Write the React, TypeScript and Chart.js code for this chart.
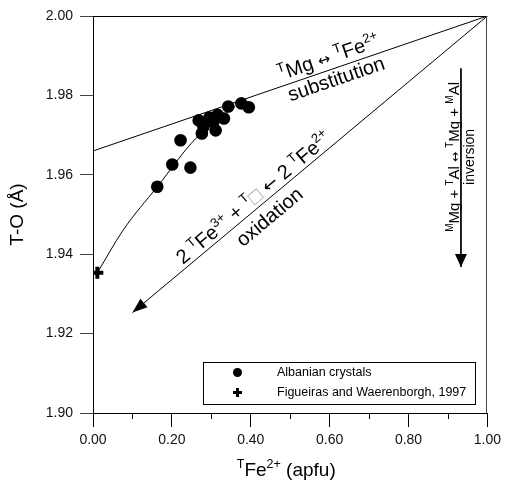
import React, { useEffect, useRef } from "react";
import { Chart, registerables } from "chart.js";

Chart.register(...registerables);

// ---- data ----
const albanianX = [0.163, 0.201, 0.247, 0.222, 0.276, 0.311, 0.268, 0.295, 0.280, 0.316, 0.332, 0.343, 0.376, 0.395, 0.305];
const albanianY = [1.957, 1.9626, 1.9618, 1.9687, 1.9704, 1.9712, 1.9737, 1.9744, 1.9721, 1.9751, 1.9742, 1.9772, 1.978, 1.977, 1.9733];
const figueirasX = [0.011];
const figueirasY = [1.9353];
const trendX = [0.011, 0.076, 0.163, 0.261, 0.36];
const trendY = [1.9353, 1.946, 1.957, 1.9692, 1.9772];
const substitutionX = [0, 1];
const substitutionY = [1.966, 2.0];
const oxidationX = [1, 0.1];
const oxidationY = [2.0, 1.9253];
const inversionX = [0.933, 0.933];
const inversionY = [1.9868, 1.9368];
const xRange = [0, 1];
const yRange = [1.9, 2.0];
const xStep = 0.2;
const xMinorTicks = [0.1, 0.3, 0.5, 0.7, 0.9];
const yStep = 0.02;
const legendLabels = ["Albanian crystals", "Figueiras and Waerenborgh, 1997"];

const FAMILY = '"Liberation Sans", Arial, Helvetica, sans-serif';
const ARROW_FAMILY = '"DejaVu Sans", sans-serif';
const font = (s: number, fam: string = FAMILY) => `${s}px ${fam}`;

type Part = { t: string; k: "n" | "s" | "a"; c?: string; z?: number };

function drawRich(
  ctx: CanvasRenderingContext2D,
  parts: Part[],
  x: number,
  y: number,
  angle: number,
  main: number,
  sup: number
) {
  ctx.save();
  ctx.translate(x, y);
  ctx.rotate(angle);
  ctx.textBaseline = "alphabetic";
  ctx.textAlign = "left";
  const fontOf = (p: Part) =>
    p.k === "s" ? font(sup) : p.k === "a" ? font(p.z || main, ARROW_FAMILY) : font(main);
  const widths: number[] = [];
  let total = 0;
  for (const p of parts) {
    ctx.font = fontOf(p);
    const w = ctx.measureText(p.t).width;
    widths.push(w);
    total += w;
  }
  let cx = -total / 2;
  parts.forEach((p, i) => {
    ctx.font = fontOf(p);
    ctx.fillStyle = p.c || "#000";
    const dy = p.k === "s" ? -main * 0.4 : p.k === "a" ? -main * 0.02 : 0;
    ctx.fillText(p.t, cx, dy);
    cx += widths[i];
  });
  ctx.restore();
}

function arrowHead(ctx: CanvasRenderingContext2D, fx: number, fy: number, tx: number, ty: number, len: number, half: number) {
  const a = Math.atan2(ty - fy, tx - fx);
  const ux = Math.cos(a), uy = Math.sin(a);
  const bx = tx - ux * len, by = ty - uy * len;
  ctx.beginPath();
  ctx.moveTo(tx, ty);
  ctx.lineTo(bx - uy * half, by + ux * half);
  ctx.lineTo(bx + uy * half, by - ux * half);
  ctx.closePath();
  ctx.fillStyle = "#000";
  ctx.fill();
}

const annotationPlugin = {
  id: "annotations",
  afterDatasetsDraw(chart: any) {
    const ctx: CanvasRenderingContext2D = chart.ctx;
    const xs = chart.scales.x;
    const ys = chart.scales.y;
    const ca = chart.chartArea;
    const px = (v: number) => xs.getPixelForValue(v);
    const py = (v: number) => ys.getPixelForValue(v);
    ctx.save();

    // frame top and right
    ctx.strokeStyle = "#000";
    ctx.lineWidth = 1;
    ctx.beginPath();
    ctx.moveTo(ca.left, Math.round(ca.top) + 0.5);
    ctx.lineTo(ca.right, Math.round(ca.top) + 0.5);
    ctx.stroke();
    ctx.strokeStyle = "#444";
    ctx.beginPath();
    ctx.moveTo(Math.round(ca.right) - 0.5, ca.top);
    ctx.lineTo(Math.round(ca.right) - 0.5, ca.bottom);
    ctx.stroke();

    // minor x ticks
    ctx.strokeStyle = "#000";
    for (const v of xMinorTicks) {
      const x = Math.round(px(v)) + 0.5;
      ctx.beginPath();
      ctx.moveTo(x, ca.bottom);
      ctx.lineTo(x, ca.bottom + 6);
      ctx.stroke();
    }

    // arrow heads
    arrowHead(ctx, px(oxidationX[0]), py(oxidationY[0]), px(oxidationX[1]), py(oxidationY[1]), 15, 5.5);
    arrowHead(ctx, px(inversionX[0]), py(inversionY[0]), px(inversionX[1]), py(inversionY[1]), 13, 6);

    // substitution labels
    {
      const ax = px(substitutionX[0]), ay = py(substitutionY[0]);
      const bx = px(substitutionX[1]), by = py(substitutionY[1]);
      const L = Math.hypot(bx - ax, by - ay);
      const ux = (bx - ax) / L, uy = (by - ay) / L;
      const nx = -uy, ny = ux;
      const ang = Math.atan2(by - ay, bx - ax);
      const along = 0.608 * L;
      const p1 = [ax + ux * along + nx * -6, ay + uy * along + ny * -6];
      const p2 = [ax + ux * along + nx * 17, ay + uy * along + ny * 17];
      drawRich(ctx, [
        { t: "T", k: "s" }, { t: "Mg", k: "n" }, { t: " ", k: "n" }, { t: "\u2194", k: "a", z: 15 }, { t: " ", k: "n" },
        { t: "T", k: "s" }, { t: "Fe", k: "n" }, { t: "2+", k: "s" },
      ], p1[0], p1[1], ang, 20, 13);
      drawRich(ctx, [{ t: "substitution", k: "n" }], p2[0], p2[1], ang, 20, 13);
    }

    // oxidation labels
    {
      const ax = px(oxidationX[1]), ay = py(oxidationY[1]);
      const bx = px(oxidationX[0]), by = py(oxidationY[0]);
      const L = Math.hypot(bx - ax, by - ay);
      const ux = (bx - ax) / L, uy = (by - ay) / L;
      const nx = -uy, ny = ux;
      const ang = Math.atan2(by - ay, bx - ax);
      const along = 0.36 * L;
      const p1 = [ax + ux * along + nx * -4, ay + uy * along + ny * -4];
      const p2 = [ax + ux * along + nx * 21, ay + uy * along + ny * 21];
      drawRich(ctx, [
        { t: "2 ", k: "n" }, { t: "T", k: "s" }, { t: "Fe", k: "n" }, { t: "3+", k: "s" }, { t: " + ", k: "n" },
        { t: "T", k: "s" }, { t: "\u25A1", k: "n", c: "#aaa" }, { t: " ", k: "n" }, { t: "\u2190", k: "a", z: 18 },
        { t: " 2 ", k: "n" }, { t: "T", k: "s" }, { t: "Fe", k: "n" }, { t: "2+", k: "s" },
      ], p1[0], p1[1], ang, 20, 13);
      drawRich(ctx, [{ t: "oxidation", k: "n" }], p2[0], p2[1], ang, 20, 13);
    }

    // inversion labels
    {
      const lx = px(inversionX[0]);
      const cy = py(1.9645);
      drawRich(ctx, [
        { t: "M", k: "s" }, { t: "Mg", k: "n" }, { t: " + ", k: "n" }, { t: "T", k: "s" }, { t: "Al", k: "n" },
        { t: " ", k: "n" }, { t: "\u2194", k: "a", z: 12 }, { t: " ", k: "n" }, { t: "T", k: "s" }, { t: "Mg", k: "n" },
        { t: " + ", k: "n" }, { t: "M", k: "s" }, { t: "Al", k: "n" },
      ], lx - 2, cy, -Math.PI / 2, 15, 10);
      drawRich(ctx, [{ t: "inversion", k: "n" }], lx + 13.5, cy, -Math.PI / 2, 14, 10);
    }

    // x axis title
    drawRich(ctx, [
      { t: "T", k: "s" }, { t: "Fe", k: "n" }, { t: "2+", k: "s" }, { t: " (apfu)", k: "n" },
    ], px(0.49), 476, 0, 19, 12.5);

    // legend
    {
      const l = Math.round(ca.left) + 110, t = Math.round(ca.top) + 346;
      ctx.strokeStyle = "#000";
      ctx.lineWidth = 1;
      ctx.strokeRect(l + 0.5, t + 0.5, 272, 42);
      const mx = l + 34.5;
      ctx.fillStyle = "#000";
      ctx.beginPath();
      ctx.arc(mx, t + 10.5, 4.5, 0, Math.PI * 2);
      ctx.fill();
      ctx.fillRect(mx - 4.5, t + 30.5 - 1.5, 9, 3);
      ctx.fillRect(mx - 1.5, t + 30.5 - 4.5, 3, 9);
      ctx.font = font(12.5);
      ctx.textBaseline = "middle";
      ctx.textAlign = "left";
      ctx.fillText(legendLabels[0], l + 74, t + 11);
      ctx.fillText(legendLabels[1], l + 74, t + 31);
    }
    ctx.restore();
  },
};

export default function App() {
  const ref = useRef<HTMLCanvasElement>(null);
  useEffect(() => {
    if (!ref.current) return;
    const toPts = (xs: number[], ys: number[]) => xs.map((x, i) => ({ x, y: ys[i] }));
    const lineDs = (label: string, xs: number[], ys: number[], extra: any = {}) => ({
      label,
      data: toPts(xs, ys),
      showLine: true,
      borderColor: "#000",
      borderWidth: 1,
      pointRadius: 0,
      fill: false,
      ...extra,
    });
    const chart = new Chart(ref.current, {
      type: "scatter",
      data: {
        datasets: [
          {
            label: legendLabels[0],
            data: toPts(albanianX, albanianY),
            pointStyle: "circle",
            pointRadius: 6.3,
            backgroundColor: "#000",
            borderWidth: 0,
          },
          {
            label: legendLabels[1],
            data: toPts(figueirasX, figueirasY),
            pointStyle: "cross",
            pointRadius: 6,
            borderColor: "#000",
            borderWidth: 4,
          },
          lineDs("trend", trendX, trendY, { cubicInterpolationMode: "monotone" }),
          lineDs("substitution", substitutionX, substitutionY),
          lineDs("oxidation", oxidationX, oxidationY),
          lineDs("inversion", inversionX, inversionY),
        ],
      },
      options: {
        animation: false,
        responsive: false,
        maintainAspectRatio: false,
        layout: { padding: { top: 16, right: 16, left: 0, bottom: 0 } },
        plugins: { legend: { display: false }, tooltip: { enabled: false } },
        scales: {
          x: {
            type: "linear",
            min: xRange[0],
            max: xRange[1],
            border: { display: true, color: "#000", width: 1 },
            grid: { drawOnChartArea: false, drawTicks: true, tickLength: 14, tickColor: "#000" },
            ticks: {
              stepSize: xStep,
              padding: 5,
              color: "#111",
              font: { family: FAMILY, size: 14 },
              maxRotation: 0,
              callback: (v: any) => Number(v).toFixed(2),
            },
            afterFit: (s: any) => {
              s.height = 70;
            },
          },
          y: {
            type: "linear",
            min: yRange[0],
            max: yRange[1],
            border: { display: true, color: "#000", width: 1 },
            grid: { drawOnChartArea: false, drawTicks: true, tickLength: 13, tickColor: "#444" },
            ticks: {
              stepSize: yStep,
              padding: 7,
              color: "#111",
              font: { family: FAMILY, size: 14 },
              callback: (v: any) => Number(v).toFixed(2),
            },
            title: {
              display: true,
              text: "T-O (\u00C5)",
              color: "#000",
              font: { family: FAMILY, size: 19 },
              padding: { top: 6, bottom: 0 },
            },
            afterFit: (s: any) => {
              s.width = 93;
            },
          },
        },
      },
      plugins: [annotationPlugin],
    } as any);
    return () => chart.destroy();
  }, []);
  return (
    <div style={{ position: "fixed", left: 0, top: 0, width: 506, height: 483, background: "#fff" }}>
      <canvas ref={ref} width={506} height={483} style={{ display: "block", width: 506, height: 483 }} />
    </div>
  );
}
